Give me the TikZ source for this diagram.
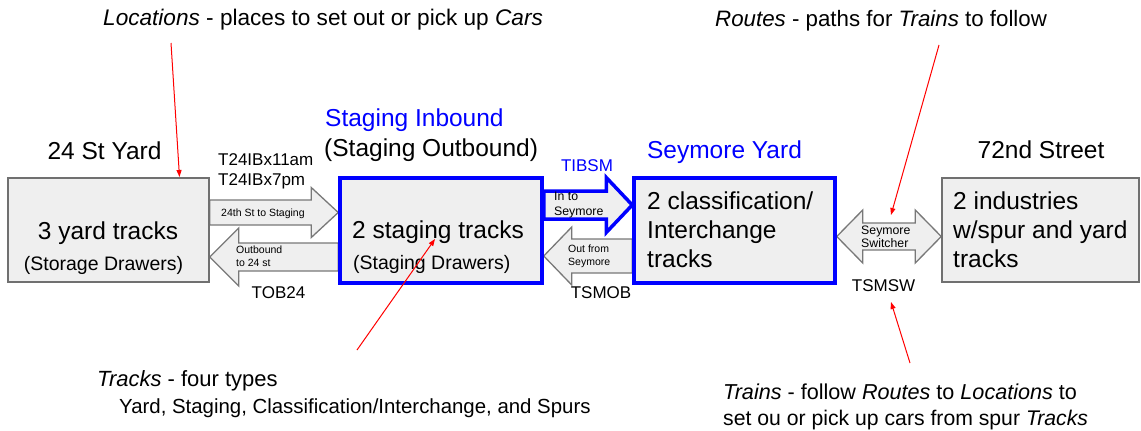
\documentclass[tikz,border=0pt]{standalone}
\usepackage{fontspec}
\setmainfont{Liberation Sans}
\usetikzlibrary{arrows.meta,calc}
\pgfdeclarelayer{under}
\pgfsetlayers{under,main}

\definecolor{boxfill}{RGB}{239,239,239}
\definecolor{edgegray}{RGB}{112,112,112}
\definecolor{arrowgray}{RGB}{120,120,120}
\definecolor{routeblue}{RGB}{0,0,255}
\definecolor{notered}{RGB}{255,0,0}

\newcommand\fsz[1]{\fontsize{#1}{#1}\selectfont}

% block arrow from tail #2 to tip #3 (same height): #4 shaft half width,
% #5 head half width, #6 head length
\newcommand\blockarrow[6]{%
  \draw[#1] let \p1=(#2), \p2=(#3), \n1={sign(\x2-\x1)} in
    (\x1,{\y1+#4}) -- ({\x2-(\n1)*#6},{\y1+#4}) -- ({\x2-(\n1)*#6},{\y1+#5})
    -- (\x2,\y1) -- ({\x2-(\n1)*#6},{\y1-#5}) -- ({\x2-(\n1)*#6},{\y1-#4})
    -- (\x1,{\y1-#4}) -- cycle;}

\tikzset{
  yardbox/.style={draw=edgegray, fill=boxfill, line width=1.5pt, inner sep=0pt},
  bluebox/.style={draw=routeblue, fill=boxfill, line width=3.5pt, inner sep=0pt},
  grayarrow/.style={draw=arrowgray, fill=boxfill, line width=1.3pt, line join=miter},
  bluearrow/.style={draw=routeblue, fill=boxfill, line width=3.5pt, line join=miter},
  pointer/.style={draw=notered, line width=1pt, -{Triangle[length=7pt,width=5pt]}},
  big/.style={font=\fsz{24.5}, inner sep=0pt},
  sub/.style={font=\fsz{19.5}, inner sep=0pt},
  mid/.style={font=\fsz{17}, inner sep=0pt},
  small/.style={font=\fsz{12.3}, inner sep=0pt},
  tiny/.style={font=\fsz{10.5}, inner sep=0pt},
  notetext/.style={inner sep=0pt, anchor=base west},
}

\begin{document}
\begin{tikzpicture}[x=1pt, y=-1pt]
\useasboundingbox (0,0) rectangle (1141,431);

% location boxes
\node[yardbox, minimum width=201pt, minimum height=104pt] (yard) at (108.5,230) {};
\node[bluebox, minimum width=202pt, minimum height=105pt] (stag) at (441,230.5) {};
\node[bluebox, minimum width=201pt, minimum height=105pt] (sey) at (734.5,230.5) {};
\node[yardbox, minimum width=197pt, minimum height=104pt] (ind) at (1040.5,230) {};

% route arrows, drawn beneath the boxes
\coordinate (aTail) at (yard.east |- 0,212.5);
\coordinate (aTip)  at (stag.west |- 0,212.5);
\coordinate (bTail) at (stag.west |- 0,257);
\coordinate (bTip)  at (yard.east |- 0,257);
\coordinate (cTail) at (stag.east |- 0,205);
\coordinate (cTip)  at (sey.west |- 0,205);
\coordinate (dTail) at (sey.west |- 0,256);
\coordinate (dTip)  at (stag.east |- 0,256);
\coordinate (eLeft)  at (sey.east |- 0,236.5);
\coordinate (eRight) at (ind.west |- 0,236.5);
\begin{pgfonlayer}{under}
  \blockarrow{grayarrow}{aTail}{aTip}{12.5pt}{25pt}{27pt}
  \blockarrow{grayarrow}{bTail}{bTip}{14pt}{29pt}{29pt}
  \blockarrow{bluearrow}{cTail}{cTip}{14pt}{27.5pt}{26pt}
  \blockarrow{grayarrow}{dTail}{dTip}{17pt}{29pt}{28pt}
  \draw[grayarrow] let \p1=(eLeft), \p2=(eRight) in
    (\x1,\y1) -- ({\x1+26pt},{\y1+26.5pt}) -- ({\x1+26pt},{\y1+13.5pt})
    -- ({\x2-26pt},{\y1+13.5pt}) -- ({\x2-26pt},{\y1+26.5pt}) -- (\x2,\y1)
    -- ({\x2-26pt},{\y1-26.5pt}) -- ({\x2-26pt},{\y1-13.5pt})
    -- ({\x1+26pt},{\y1-13.5pt}) -- ({\x1+26pt},{\y1-26.5pt}) -- cycle;
\end{pgfonlayer}

% 24 St Yard
\node[big, anchor=base] (yardT) at (104.5,159) {24 St Yard};
\node[big, anchor=base] (yardA) at (108,239) {3 yard tracks};
\node[sub, anchor=base] (yardB) at (103.5,270) {(Storage Drawers)};
\node[mid, anchor=base west] (trainA1) at (218,165) {T24IBx11am};
\node[mid, anchor=base west] (trainA2) at (218,185) {T24IBx7pm};
\node[tiny, anchor=base west] (aLab) at (221,216) {24th St to Staging};
\node[tiny, anchor=base west] (bLab1) at (236,253) {Outbound};
\node[tiny, anchor=base west] (bLab2) at (236,266.5) {to 24 st};
\node[mid, anchor=base] (trainB) at (278.5,298) {TOB24};

% staging
\node[big, anchor=base west, text=routeblue] (stagT1) at (325,126.5) {Staging Inbound};
\node[big, anchor=base west] (stagT2) at (324,156.5) {(Staging Outbound)};
\node[big, anchor=base west] (stagA) at (352,238) {2 staging tracks};
\node[sub, anchor=base west] (stagB) at (353,269) {(Staging Drawers)};
\node[mid, anchor=base, text=routeblue] (trainC) at (587,171) {TIBSM};
\node[small, anchor=base west] (cLab1) at (554,200.5) {In to};
\node[small, anchor=base west] (cLab2) at (554,215) {Seymore};
\node[tiny, anchor=base west] (dLab1) at (568,252) {Out from};
\node[tiny, anchor=base west] (dLab2) at (568,265.5) {Seymore};
\node[mid, anchor=base] (trainD) at (601,298) {TSMOB};

% Seymore Yard
\node[big, anchor=base, text=routeblue] (seyT) at (724.5,158.3) {Seymore Yard};
\node[big, anchor=base west] (seyA) at (647,209) {2 classification/};
\node[big, anchor=base west] (seyB) at (647,238.4) {Interchange};
\node[big, anchor=base west] (seyC) at (647,267.8) {tracks};
\node[small, anchor=base west] (eLab1) at (861,234) {Seymore};
\node[small, anchor=base west] (eLab2) at (861,247.3) {Switcher};
\node[mid, anchor=base] (trainE) at (883.5,291.7) {TSMSW};

% 72nd Street
\node[big, anchor=base] (indT) at (1041,158) {72nd Street};
\node[big, anchor=base west] (indA) at (953,209) {2 industries};
\node[big, anchor=base west] (indB) at (953,238.4) {w/spur and yard};
\node[big, anchor=base west] (indC) at (953,267.8) {tracks};

% notes
\node[notetext, font=\fsz{22.6}] (noteLoc) at (103,25)
  {\textit{Locations} - places to set out or pick up \textit{Cars}};
\node[notetext, font=\fsz{22.3}] (noteRoute) at (715,26)
  {\textit{Routes} - paths for \textit{Trains} to follow};
\node[notetext, font=\fsz{22}] (noteTrk1) at (97,386.5) {\textit{Tracks} - four types};
\node[notetext, font=\fsz{20.4}] (noteTrk2) at (119,413)
  {Yard, Staging, Classification/Interchange, and Spurs};
\node[notetext, font=\fsz{21.6}] (noteTrn1) at (723,399)
  {\textit{Trains} - follow \textit{Routes} to \textit{Locations} to};
\node[notetext, font=\fsz{21.2}] (noteTrn2) at (723,425)
  {set ou or pick up cars from spur \textit{Tracks}};

% note pointers
\coordinate (pLocS) at (171,43);
\coordinate (pLocE) at (179.5,177);
\coordinate (pTrkS) at (357,350);
\coordinate (pTrkE) at (435,239);
\coordinate (pRouS) at (939,45);
\coordinate (pRouE) at (891,215);
\coordinate (pTrnS) at (910,363);
\coordinate (pTrnE) at (891,302);
\draw[pointer] (pLocS) -- (pLocE);
\draw[pointer] (pTrkS) -- (pTrkE);
\draw[pointer] (pRouS) -- (pRouE);
\draw[pointer] (pTrnS) -- (pTrnE);
\end{tikzpicture}
\end{document}
